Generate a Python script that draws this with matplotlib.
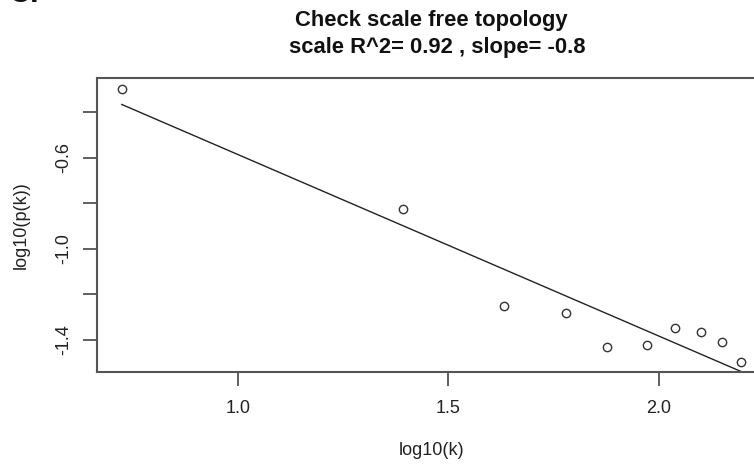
import numpy as np
import matplotlib.pyplot as plt

plt.rcParams['font.family'] = ['Liberation Sans', 'DejaVu Sans']

# log10(k) and log10(p(k))
log_k = [0.723, 1.392, 1.633, 1.780, 1.878, 1.972, 2.039, 2.102, 2.152, 2.197]
log_pk = [-0.298, -0.825, -1.253, -1.281, -1.432, -1.423, -1.349, -1.366, -1.411, -1.496]

x_ticks = [1.0, 1.5, 2.0]
y_ticks = [-0.4, -0.6, -0.8, -1.0, -1.2, -1.4]
y_labels = ['', '-0.6', '', '-1.0', '', '-1.4']

fig = plt.figure(figsize=(7.54, 4.66), dpi=100)
ax = fig.add_axes([0.1286, 0.2017, 0.887, 0.6309])

x = np.array(log_k)
y = np.array(log_pk)
slope, icpt = np.polyfit(x, y, 1)

ax.plot(x, y, 'o', mfc='none', mec='#333333', ms=6.0, mew=1.0)
ax.plot(x, slope * x + icpt, '-', color='#222222', lw=1.0)

ax.set_xlim(0.664, 2.255)
ax.set_ylim(-1.542, -0.249)

ax.set_xticks(x_ticks)
ax.set_xticklabels(['%.1f' % v for v in x_ticks])
ax.set_yticks(y_ticks)
ax.set_yticklabels(y_labels, rotation=90, va='center')
ax.tick_params(axis='both', direction='out', length=10, width=1.2, color='#444444',
               labelsize=13, labelcolor='#222222', pad=10)
ax.tick_params(axis='y', pad=8)

for s in ax.spines.values():
    s.set_color('#555555')
    s.set_linewidth(1.5)

ax.set_xlabel('log10(k)', fontsize=13, color='#222222', labelpad=18)
ax.set_ylabel('log10(p(k))', fontsize=13, color='#222222', labelpad=18)

fig.text(0.572, 0.957, 'Check scale free topology', ha='center', va='center',
         fontsize=15.8, fontweight='bold', color='#111111')
fig.text(0.58, 0.897, 'scale R^2= 0.92 , slope= -0.8', ha='center', va='center',
         fontsize=15.8, fontweight='bold', color='#111111')
fig.text(0.012, 1.012, 'C.', ha='left', va='center', fontsize=22,
         fontweight='bold', color='#111111')

fig.savefig('out.png', dpi=100)
